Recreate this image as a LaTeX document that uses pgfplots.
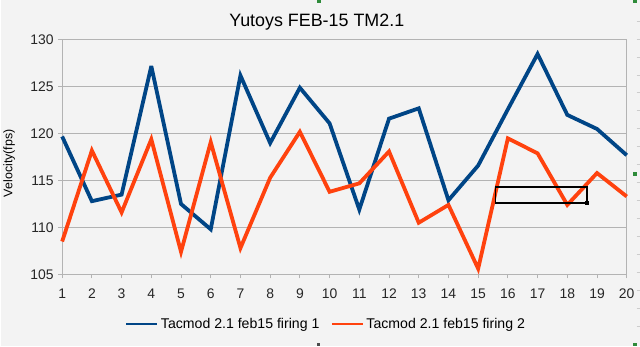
\documentclass[border=0pt]{standalone}
\usepackage{fontspec}
\setmainfont{Liberation Sans}
\usepackage{pgfplots}
\pgfplotsset{compat=1.18}
\definecolor{bg}{HTML}{F3F3F3}
\definecolor{gridc}{HTML}{B3B3B3}
\definecolor{s1}{HTML}{004586}
\definecolor{s2}{HTML}{FF420E}
\definecolor{handle}{HTML}{2E8B3A}
\pgfplotstableread{
x y1 y2
1 119.7 108.5
2 112.8 118.2
3 113.5 111.6
4 127.2 119.4
5 112.5 107.4
6 109.8 119.1
7 126.2 107.8
8 119.0 115.3
9 124.9 120.2
10 121.1 113.8
11 111.9 114.7
12 121.6 118.1
13 122.7 110.5
14 112.9 112.4
15 116.6 105.6
16 122.6 119.5
17 128.5 117.9
18 122.0 112.4
19 120.5 115.8
20 117.7 113.3
}\data
\begin{document}
\begin{tikzpicture}
\fill[bg] (0,0) rectangle (640bp,347bp);
\begin{axis}[
  at={(61bp,72bp)}, anchor=south west,
  scale only axis, width=566bp, height=235bp,
  xmin=1, xmax=20, ymin=105, ymax=130,
  xtick={1,...,20}, ytick={105,110,...,130},
  xtick pos=bottom, ytick pos=left,
  tick align=outside, major tick length=4bp,
  axis line style={gridc, line width=0.8bp},
  every tick/.style={gridc, line width=0.8bp},
  ymajorgrids, grid style={gridc, line width=0.8bp},
  /pgf/number format/assume math mode=true,
  ticklabel style={font=\fontsize{14}{16}\selectfont, text=black!85},
  xticklabel style={yshift=-7bp},
  yticklabel style={xshift=-1bp},
  title={Yutoys FEB-15 TM2.1},
  title style={font=\fontsize{18}{21}\selectfont, at={(axis description cs:0.451,1.030)}, anchor=base},
  ylabel={Velocity(fps)},
  ylabel style={font=\fontsize{12.5}{15}\selectfont, at={(axis description cs:-0.094,0.474)}, anchor=center},
  legend columns=2,
  legend style={at={(axis description cs:0.468,-0.213)}, anchor=center, draw=none, fill=none,
    font=\fontsize{14.2}{16}\selectfont, nodes={inner sep=2.5bp},
    /tikz/every even column/.append style={column sep=9bp}},
  legend image code/.code={\draw[#1, line width=2.2bp] (0bp,0bp) -- (31bp,0bp);},
  clip=false,
]
\addplot[s1, line width=3.8bp, line join=miter, miter limit=4] table[x=x, y=y1] {\data};
\addlegendentry{Tacmod 2.1 feb15 firing 1}
\addplot[s2, line width=3.8bp, line join=miter, miter limit=4] table[x=x, y=y2] {\data};
\addlegendentry{Tacmod 2.1 feb15 firing 2}
\addplot[black, line width=1.3bp, mark=square*, mark size=1.6bp, mark indices={1}, forget plot]
  coordinates {(18.66,112.6) (15.59,112.6) (15.59,114.3) (18.66,114.3) (18.66,112.6)};
\end{axis}
\fill[handle] (633bp,171bp) rectangle (637bp,175bp);
\fill[handle] (633bp,0bp) rectangle (637bp,3bp);
\fill[handle] (633bp,344bp) rectangle (637bp,347bp);
\fill[handle] (316bp,344bp) rectangle (320bp,347bp);
\fill[black!70] (316bp,0bp) rectangle (319bp,3bp);
\foreach \yy in {20,38,...,330} {\draw[gray!40, line width=0.6bp] (637bp,\yy bp) -- (640bp,\yy bp);}
\end{tikzpicture}
\end{document}
